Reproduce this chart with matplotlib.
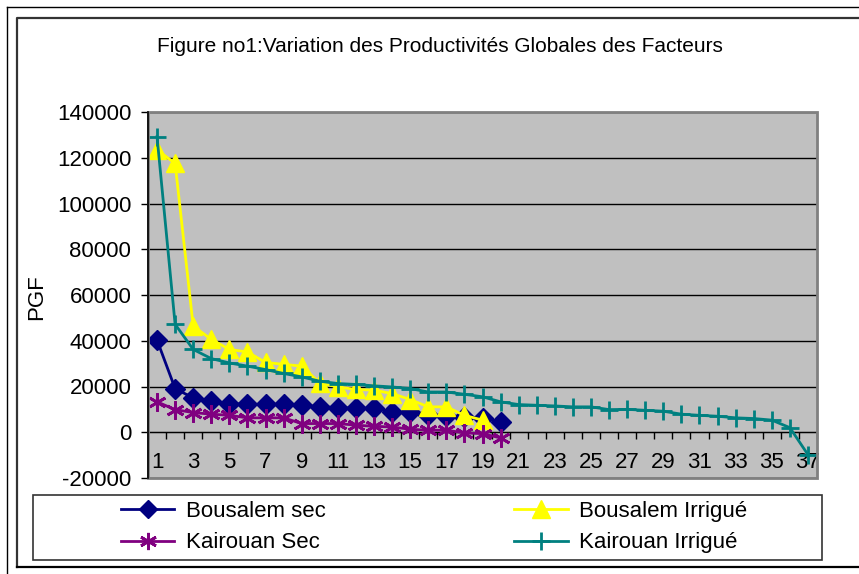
import matplotlib.pyplot as plt
from matplotlib.lines import Line2D
from matplotlib.patches import Rectangle
from matplotlib.ticker import MultipleLocator

plt.rcParams['font.family'] = ['Liberation Sans', 'DejaVu Sans']
plt.rcParams['axes.unicode_minus'] = False

# valeurs
bousalem_sec = [40300, 19100, 15000, 13700, 12500, 12200, 12200, 12200, 11800, 11100,
                10800, 10400, 10400, 8900, 8700, 7400, 7100, 6500, 6200, 4500]
bousalem_irr = [123500, 117500, 46400, 40600, 36200, 35100, 30500, 29700, 28900, 21500,
                19800, 18700, 18400, 16900, 14300, 11100, 11100, 7400, 5300]
kairouan_sec = [13300, 9900, 8600, 7900, 7400, 6300, 6300, 6300, 3800, 3800,
                3800, 3100, 2600, 2300, 1300, 900, 900, -300, -600, -2500]
kairouan_irr = [129200, 47200, 36200, 32200, 30300, 28900, 27400, 25700, 24200, 22300,
                21300, 20900, 20300, 19800, 19100, 17600, 17600, 16600, 15500, 13300,
                12100, 11800, 11500, 11100, 11100, 9900, 10000, 9600, 9200, 7900,
                7400, 7000, 6300, 6000, 5300, 2000, -9800]

series = [
    ('Bousalem sec', bousalem_sec, '#000080', 'D', 10),
    ('Bousalem Irrigué', bousalem_irr, '#FFFF00', '^', 13),
    ('Kairouan Sec', kairouan_sec, '#800080', (6, 2, 0), 13),
    ('Kairouan Irrigué', kairouan_irr, '#008080', '+', 13),
]

W, H = 859, 574
fig = plt.figure(figsize=(W / 100, H / 100), dpi=100)
ax = fig.add_axes([148 / W, (H - 478) / H, (817 - 148) / W, (478 - 112) / H])
ax.set_facecolor('#C0C0C0')

handles = []
for name, vals, col, mk, ms in series:
    x = list(range(1, len(vals) + 1))
    h, = ax.plot(x, vals, color=col, lw=2, marker=mk, markersize=ms,
                 markeredgewidth=2 if mk in ('+', (6, 2, 0)) else 1,
                 markeredgecolor=col, markerfacecolor=col, label=name, zorder=3)
    handles.append(h)

ax.set_xlim(0.5, 37.5)
ax.set_ylim(-20000, 140000)
ax.yaxis.set_major_locator(MultipleLocator(20000))
ax.grid(axis='y', color='black', lw=1, zorder=0)
ax.set_axisbelow(True)

ax.set_xticks(range(1, 38, 2))
ax.set_xticks([i + 0.5 for i in range(0, 38)], minor=True)
ax.tick_params(axis='x', which='major', length=0, pad=14, labelsize=16)
ax.tick_params(axis='x', which='minor', length=5, width=1, direction='out')
ax.tick_params(axis='y', length=5, width=1, direction='out', pad=7, labelsize=16)

for s in ['top', 'right']:
    ax.spines[s].set_visible(False)
ax.spines['bottom'].set_position(('data', 0))
ax.spines['left'].set_linewidth(1.2)
ax.add_patch(Rectangle((0, 0), 1, 1, transform=ax.transAxes, fill=False,
                       edgecolor='#808080', lw=2, clip_on=False, zorder=5))
ax.spines['left'].set_zorder(6)

fig.text(440 / W, 1 - 47 / H, 'Figure no1:Variation des Productivités Globales des Facteurs',
         ha='center', va='center', fontsize=15)
fig.text(37 / W, 1 - 297 / H, 'PGF', rotation=90, ha='center', va='center', fontsize=16)

# cadres
fig.add_artist(Line2D([7 / W, 7 / W], [0, 1 - 7 / H], color='black', lw=1))
fig.add_artist(Line2D([7 / W, 1], [1 - 7 / H, 1 - 7 / H], color='black', lw=1))
fig.add_artist(Line2D([17 / W, 17 / W, 1], [1 - 567 / H, 1 - 18 / H, 1 - 18 / H], color='#333333', lw=1.6))
fig.add_artist(Line2D([17 / W, 1], [1 - 567 / H, 1 - 567 / H], color='black', lw=1.6))
fig.add_artist(Rectangle((33 / W, 1 - 560 / H), (822 - 33) / W, (560 - 495) / H,
                         transform=fig.transFigure, fill=False, edgecolor='#333333', lw=1.2))

# ordre ligne par ligne comme dans la légende d'origine
leg_handles = [handles[0], handles[2], handles[1], handles[3]]
fig.legend(handles=leg_handles, ncol=2, loc='center', frameon=False, fontsize=16,
           bbox_to_anchor=(434 / W, 1 - 527 / H), handlelength=2.4, handletextpad=0.5,
           columnspacing=8.5, labelspacing=0.48, markerscale=0.95, borderpad=0)

fig.savefig('out.png', dpi=100)
